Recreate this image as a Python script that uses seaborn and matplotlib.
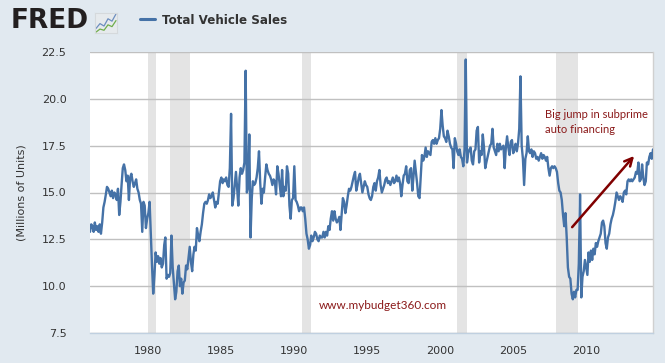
import numpy as np
import pandas as pd
import matplotlib
matplotlib.use("Agg")
import matplotlib.pyplot as plt
import matplotlib.dates as mdates
import seaborn as sns

# monthly total vehicle sales, millions of units
sales_1970s = [
    12.9, 13.3, 13.2, 12.9, 13.4, 13.0, 13.2, 12.9, 13.3, 12.8, 13.4, 14.2,
    14.5, 14.9, 15.3, 15.2, 15.0, 14.8, 15.1, 14.7, 15.0, 14.9, 14.6, 15.2,
    13.8, 14.5, 15.4, 16.3, 16.5, 16.2, 15.6, 15.9, 14.6, 15.8, 16.0, 15.6,
    15.3, 15.5, 15.7, 15.2, 15.0, 14.6, 14.4, 12.9, 14.5, 14.3, 13.1, 13.6,
]
sales_1980s = [
    13.9, 14.5, 12.8, 11.1, 9.6, 10.6, 11.8, 11.3, 11.6, 11.2, 11.5, 11.0,
    11.2, 12.2, 12.6, 10.4, 10.6, 10.5, 10.7, 12.7, 11.0, 10.2, 9.3, 9.7,
    10.8, 11.1, 10.0, 10.4, 9.6, 10.2, 10.3, 11.1, 10.9, 11.5, 12.1, 11.3,
    10.8, 11.7, 12.1, 11.9, 13.1, 12.7, 12.4, 12.9, 13.3, 13.9, 14.4, 14.5,
    14.4, 14.6, 14.9, 14.7, 14.8, 15.0, 14.6, 14.2, 14.5, 14.4, 15.0, 15.6,
    15.8, 15.5, 15.7, 15.6, 15.8, 15.4, 15.3, 16.3, 19.2, 14.3, 14.7, 15.4,
    16.1, 15.2, 14.3, 15.8, 16.3, 16.0, 16.2, 16.6, 21.5, 15.0, 15.3, 18.1,
    12.6, 14.7, 15.6, 15.4, 15.5, 15.8, 16.3, 17.2, 15.5, 14.4, 15.2, 15.0,
    15.8, 16.5, 16.2, 16.0, 15.9, 15.7, 15.4, 15.7, 15.6, 14.9, 16.4, 16.0,
    15.4, 14.8, 16.2, 14.8, 15.3, 15.1, 16.4, 16.0, 14.3, 13.6, 14.6, 14.7,
]
sales_1990s = [
    16.4, 14.6, 14.5, 14.3, 14.0, 14.2, 14.2, 14.0, 14.2, 13.6, 12.8, 12.5,
    12.0, 12.2, 12.7, 12.4, 12.6, 12.9, 12.8, 12.5, 12.4, 12.7, 12.6, 12.6,
    12.9, 12.6, 12.9, 12.7, 13.2, 13.0, 13.6, 14.0, 13.5, 14.0, 13.6, 13.4,
    13.5, 13.7, 13.0, 13.9, 14.7, 14.5, 13.9, 14.3, 14.8, 15.2, 15.1, 15.3,
    15.6, 15.9, 16.1, 15.1, 15.4, 15.8, 16.0, 15.5, 15.0, 15.3, 15.6, 15.4,
    15.3, 14.9, 14.7, 14.6, 14.8, 15.3, 15.5, 15.1, 15.6, 15.8, 16.2, 15.4,
    15.0, 15.2, 15.4, 15.7, 15.8, 15.5, 15.6, 15.4, 15.6, 15.8, 15.5, 15.6,
    15.9, 15.6, 15.8, 15.5, 14.8, 15.4, 15.9, 16.0, 16.4, 15.6, 15.5, 16.2,
    16.3, 15.1, 15.8, 16.7, 16.1, 15.5, 14.8, 14.7, 15.9, 17.0, 16.7, 16.9,
    17.4, 16.9, 17.2, 17.1, 17.0, 17.7, 17.8, 17.6, 17.9, 17.6, 17.8, 17.9,
]
sales_2000s = [
    18.4, 19.4, 18.6, 18.0, 17.9, 17.7, 18.3, 18.0, 17.6, 17.4, 17.3, 16.3,
    17.9, 17.6, 17.2, 17.0, 17.3, 16.9, 16.8, 16.4, 17.3, 22.1, 16.6, 17.1,
    17.3, 17.4, 16.7, 16.5, 17.2, 17.3, 18.3, 18.5, 16.6, 17.2, 17.0, 18.1,
    17.4, 16.3, 16.6, 16.9, 17.2, 17.5, 17.6, 18.4, 17.4, 17.2, 17.0, 17.6,
    17.2, 17.6, 17.3, 17.4, 17.5, 16.3, 17.4, 18.0, 17.4, 17.0, 17.7, 17.8,
    17.1, 17.3, 17.6, 17.2, 17.6, 18.4, 21.2, 17.5, 16.8, 15.4, 16.8, 17.1,
    18.0, 17.2, 17.1, 17.3, 16.9, 17.2, 17.1, 16.8, 16.9, 16.7, 16.9, 17.1,
    16.8, 17.0, 16.9, 16.7, 16.9, 16.3, 15.9, 16.3, 16.4, 16.3, 16.4, 16.3,
    16.1, 15.5, 15.1, 15.0, 14.6, 13.8, 13.2, 13.9, 12.6, 11.0, 10.5, 10.4,
    9.6, 9.3, 9.7, 9.4, 9.8, 9.8, 11.2, 14.9, 9.4, 10.5, 10.8, 11.4,
]
sales_2010s = [
    11.0, 10.6, 11.8, 11.3, 11.9, 11.4, 12.0, 11.7, 12.3, 12.1, 12.4, 12.6,
    12.8, 13.4, 13.5, 13.2, 12.3, 12.0, 12.6, 12.8, 13.3, 13.6, 13.8, 14.1,
    14.5, 15.0, 14.8, 14.6, 14.8, 14.7, 14.5, 15.0, 15.1, 14.9, 15.6, 15.7,
    15.6, 15.7, 15.6, 15.7, 15.8, 16.1, 16.0, 16.6, 15.6, 15.7, 16.5, 15.8,
    15.4, 15.6, 16.6, 16.5, 16.9, 17.1, 16.8, 17.3,
]
first_month = "1976-01-01"

# NBER recessions (start, end)
recession_starts = ["1980-01-01", "1981-07-01", "1990-07-01", "2001-03-01", "2007-12-01"]
recession_ends = ["1980-07-01", "1982-11-01", "1991-03-01", "2001-11-01", "2009-06-01"]

y_ticks = [7.5, 10.0, 12.5, 15.0, 17.5, 20.0, 22.5]
x_tick_years = [1980, 1985, 1990, 1995, 2000, 2005, 2010]

series_label = "Total Vehicle Sales"
y_label = "(Millions of Units)"
note_text = "Big jump in subprime\nauto financing"
note_pos = ("2007-03-01", 18.76)
arrow_tail = ("2009-01-15", 13.15)
arrow_head = ("2013-04-15", 16.95)
watermark = "www.mybudget360.com"
watermark_pos = ("1996-02-01", 8.95)

# icon in the header (decoration)
icon_blue = [1.0, 1.8, 1.4, 2.6, 2.2, 3.4]
icon_green = [0.4, 0.9, 0.7, 1.6, 1.3, 2.3]

BG = "#E1E9F0"
LINE = "#4572A7"
TXT = "#333333"
RED = "#8B1A1A"

values = sales_1970s + sales_1980s + sales_1990s + sales_2000s + sales_2010s
df = pd.DataFrame({
    "date": pd.date_range(first_month, periods=len(values), freq="MS"),
    "sales": values,
})

sns.set_style("white")
plt.rcParams["font.family"] = ["DejaVu Sans"]

fig = plt.figure(figsize=(6.65, 3.63), dpi=100, facecolor=BG)
W, H = 665, 363
ax = fig.add_axes([90 / W, 1 - 333 / H, 563 / W, 281 / H])
ax.set_facecolor("white")

for s, e in zip(recession_starts, recession_ends):
    ax.axvspan(pd.Timestamp(s), pd.Timestamp(e), color="#E4E4E4", lw=0, zorder=0)

sns.lineplot(data=df, x="date", y="sales", color=LINE, linewidth=1.7,
             ax=ax, label=series_label, legend=False, zorder=3)

ax.set_xlim(df["date"].iloc[0], df["date"].iloc[-1])
ax.set_ylim(y_ticks[0], y_ticks[-1])
ax.set_yticks(y_ticks)
ax.set_yticklabels([f"{v:.1f}" for v in y_ticks])
ax.set_xticks([pd.Timestamp(f"{y}-01-01") for y in x_tick_years])
ax.xaxis.set_major_formatter(mdates.DateFormatter("%Y"))

ax.yaxis.grid(True, color="#C0C0C0", lw=1)
ax.xaxis.grid(False)
ax.set_axisbelow(True)

for side in ["left", "top"]:
    ax.spines[side].set_visible(False)
ax.spines["right"].set_color("#D0D0D0")
ax.spines["right"].set_linewidth(1)
ax.spines["bottom"].set_color("#C0D0E0")
ax.spines["bottom"].set_linewidth(1)

ax.tick_params(axis="y", length=0, pad=17, labelsize=8, labelcolor=TXT)
ax.tick_params(axis="x", length=5, width=1, color="#C0D0E0", pad=4,
               labelsize=8, labelcolor=TXT, direction="out")
ax.set_xlabel("")
ax.set_ylabel("")
fig.text(22 / W, 1 - 192.5 / H, y_label, rotation=90, ha="center", va="center",
         fontsize=8, color=TXT)

# annotation and watermark
ax.annotate("", xy=(pd.Timestamp(arrow_head[0]), arrow_head[1]),
            xytext=(pd.Timestamp(arrow_tail[0]), arrow_tail[1]),
            arrowprops=dict(arrowstyle="->", color="#800000", lw=1.8,
                            mutation_scale=14, shrinkA=0, shrinkB=0), zorder=5)
ax.text(pd.Timestamp(note_pos[0]), note_pos[1], note_text, color=RED,
        fontsize=8, family=["Lato", "DejaVu Sans"], va="center", ha="left",
        linespacing=1.35, zorder=5)
ax.text(pd.Timestamp(watermark_pos[0]), watermark_pos[1], watermark, color=RED,
        fontsize=8.5, family=["Lato", "DejaVu Sans"], va="center", ha="center", zorder=5)

# header: FRED logo, icon, legend
fig.text(11 / W, 1 - 21 / H, "FRED", fontsize=19, fontweight="bold",
         color="#231F20", va="center", ha="left")
icon = fig.add_axes([95 / W, 1 - 33 / H, 22 / W, 20 / H])
icon.set_facecolor("#E6EAED")
icon.plot(range(len(icon_blue)), icon_blue, color="#6C8EBF", lw=0.9)
icon.plot(range(len(icon_green)), icon_green, color="#6FAE4B", lw=0.9)
icon.set_xticks([])
icon.set_yticks([])
for sp in icon.spines.values():
    sp.set_color("#D5D9DC")

handles, labels = ax.get_legend_handles_labels()
leg = fig.legend(handles, labels, loc="center left",
                 bbox_to_anchor=(140 / W, 1 - 20 / H), frameon=False,
                 prop={"weight": "bold", "size": 8.6}, handlelength=1.25,
                 handletextpad=0.6, borderaxespad=0, borderpad=0)
for t in leg.get_texts():
    t.set_color(TXT)
for l in leg.get_lines():
    l.set_linewidth(2.2)

fig.savefig("out.png", dpi=100, facecolor=BG)
